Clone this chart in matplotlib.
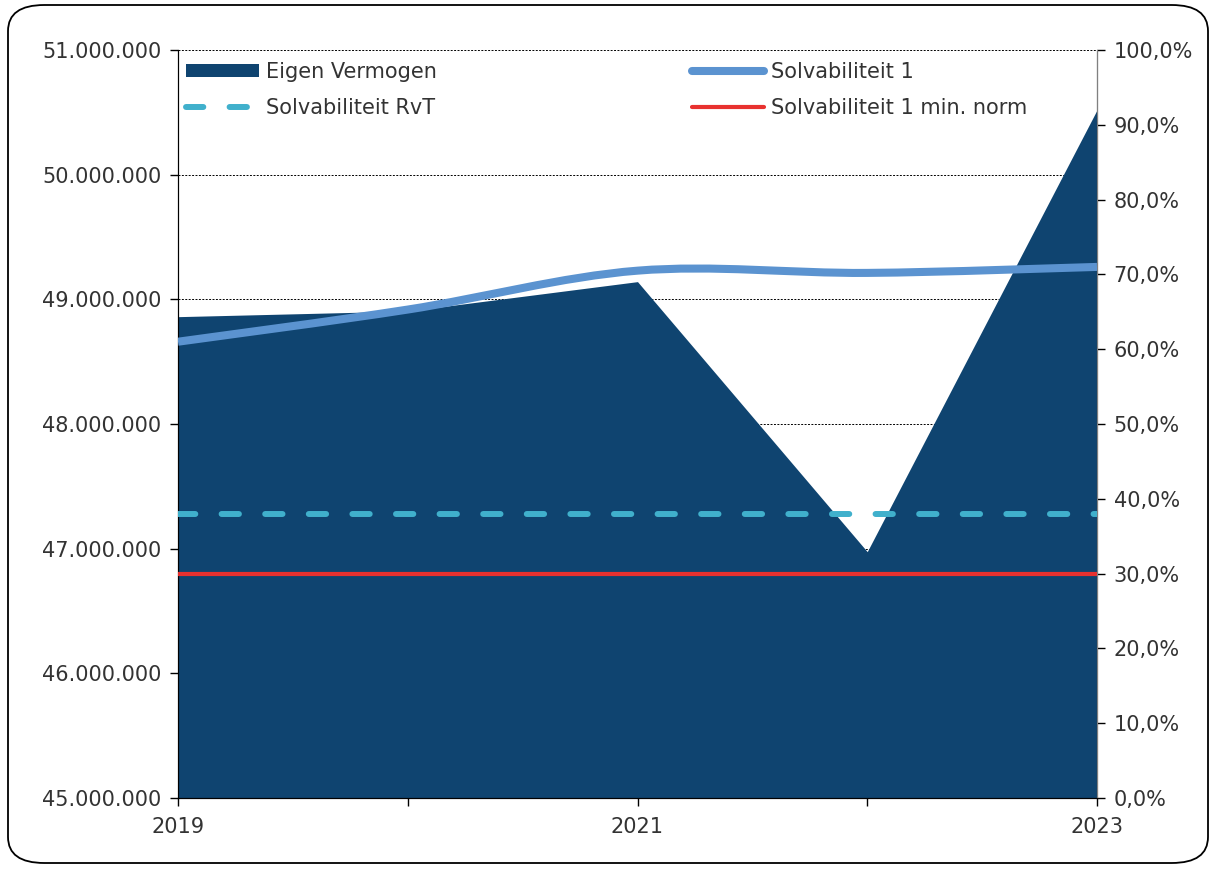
import numpy as np
import matplotlib
matplotlib.use("Agg")
from matplotlib import pyplot as plt
from matplotlib.path import Path
from matplotlib.patches import PathPatch, FancyBboxPatch, Patch
from matplotlib.lines import Line2D
from matplotlib.ticker import FuncFormatter

# --- Data
years = [2019, 2020, 2021, 2022, 2023]
year_labels = ["2019", "", "2021", "", "2023"]
eigen_vermogen = [48861000, 48906000, 49142000, 46976000, 50519000]
solv_1 = [61.0, 65.3, 70.5, 70.2, 71.0]
solv_rvt = [38.0, 38.0, 38.0, 38.0, 38.0]
solv_min_norm = [30.0, 30.0, 30.0, 30.0, 30.0]

c_area = "#0f4470"
c_solv1 = "#5b93d0"
c_rvt = "#40b0cc"
c_norm = "#e8312f"
c_text = "#333333"

plt.rcParams['font.family'] = ['DejaVu Sans']
fs = 15

fig = plt.figure(figsize=(12.10, 8.69), dpi=100)
ax = fig.add_axes([178/1210, 1 - 798/869, (1097-178)/1210, (798-50)/869])
ax2 = ax.twinx()

# --- Rounded outer frame
frame = FancyBboxPatch((8/1210, 6/869), 1200/1210, 858/869,
                       boxstyle="round,pad=0,rounding_size=0.03",
                       transform=fig.transFigure, fill=False,
                       edgecolor="black", linewidth=1.3)
fig.patches.append(frame)

# --- Area (left axis)
ax.fill_between(years, 45000000, eigen_vermogen, color=c_area, lw=0, zorder=2)
ax.set_ylim(45000000, 51000000)
ax.set_xlim(2019, 2023)
ax.set_yticks(np.arange(45000000, 51000001, 1000000))
ax.yaxis.set_major_formatter(FuncFormatter(lambda v, p: f"{int(v):,}".replace(",", ".")))
ax.grid(axis="y", color="black", linestyle=(0, (2, 1.5)), linewidth=0.7, zorder=1)
ax.set_axisbelow(True)
ax.set_xticks(years)
ax.set_xticklabels(year_labels)

# --- Smoothed Solvabiliteit 1 (Excel-style bezier through the data points)
pts = np.column_stack([years, solv_1]).astype(float)
ext = np.vstack([pts[0], pts, pts[-1]])
verts = [tuple(pts[0])]
codes = [Path.MOVETO]
for i in range(len(pts) - 1):
    p0, p1, p2, p3 = ext[i], ext[i+1], ext[i+2], ext[i+3]
    c1 = p1 + (p2 - p0) / 6
    c2 = p2 - (p3 - p1) / 6
    verts += [tuple(c1), tuple(c2), tuple(p2)]
    codes += [Path.CURVE4] * 3
ax2.add_patch(PathPatch(Path(verts, codes), fill=False, edgecolor=c_solv1,
                        linewidth=5.8, capstyle="butt", zorder=4))

ax2.plot(years, solv_rvt, color=c_rvt, linewidth=4.3, dashes=(2.9, 4.4),
         dash_capstyle="round", zorder=3)
ax2.plot(years, solv_min_norm, color=c_norm, linewidth=3.0, zorder=3)
ax2.set_ylim(0, 100)
ax2.set_yticks(np.arange(0, 101, 10))
ax2.yaxis.set_major_formatter(FuncFormatter(lambda v, p: f"{v:.1f}%".replace(".", ",")))

for a in (ax, ax2):
    a.spines["top"].set_visible(False)
    a.tick_params(labelsize=fs, colors="black", labelcolor=c_text, length=6, width=1)
ax.spines["left"].set_color("black")
ax2.spines["right"].set_color("#808080")
ax.tick_params(axis="x", pad=8)
ax.tick_params(axis="y", pad=6)
ax2.tick_params(axis="y", pad=6)

# --- Legend
handles = [Patch(facecolor=c_area, edgecolor="none"),
           Line2D([], [], color=c_rvt, lw=4.3, dashes=(2.9, 4.4), dash_capstyle="round"),
           Line2D([], [], color=c_solv1, lw=5.8, solid_capstyle="round"),
           Line2D([], [], color=c_norm, lw=3.0, solid_capstyle="round")]
labels = ["Eigen Vermogen", "Solvabiliteit RvT", "Solvabiliteit 1", "Solvabiliteit 1 min. norm"]
leg = ax2.legend(handles, labels, ncol=2, loc="upper left", bbox_to_anchor=(0.0, 0.995),
                 fontsize=fs, frameon=True, framealpha=0.55, edgecolor="none",
                 fancybox=False, handlelength=3.5, handleheight=0.6, handletextpad=0.3,
                 columnspacing=12.25, labelspacing=0.75, borderpad=0.2, borderaxespad=0.2)
leg.get_frame().set_linewidth(0)
for t in leg.get_texts():
    t.set_color(c_text)
leg.set_zorder(10)

fig.savefig("out.png", dpi=100)
